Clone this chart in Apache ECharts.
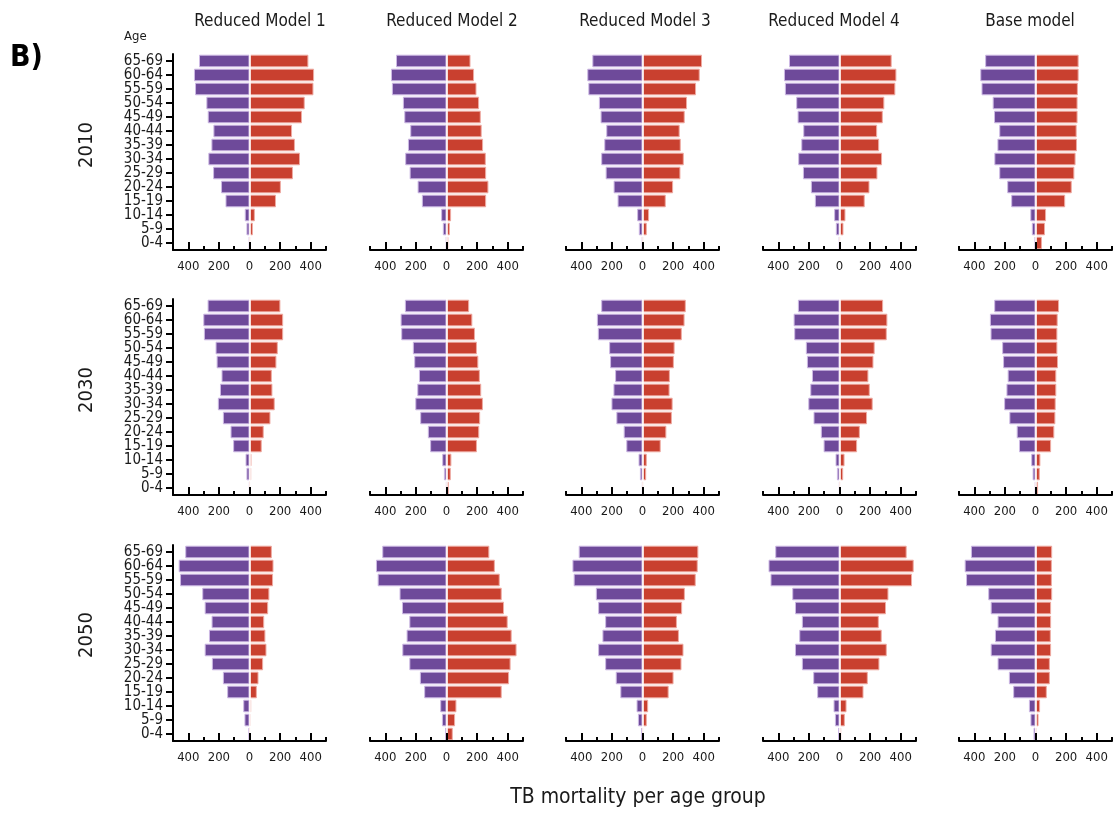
<!DOCTYPE html>
<html>
<head>
<meta charset="utf-8">
<script src="https://cdn.jsdelivr.net/npm/echarts@6/dist/echarts.min.js"></script>
<style>
  html, body { margin: 0; padding: 0; background: #fff; }
  #chart { width: 1113px; height: 817px; }
</style>
</head>
<body>
<div id="chart"></div>
<script>
// ---------- DATA (age groups from youngest to oldest) ----------
const ageGroups = ['0-4','5-9','10-14','15-19','20-24','25-29','30-34','35-39','40-44','45-49','50-54','55-59','60-64','65-69'];
const modelNames = ['Reduced Model 1','Reduced Model 2','Reduced Model 3','Reduced Model 4','Base model'];
const years = ['2010','2030','2050'];
const xMajorTicks = [-400,-200,0,200,400];
const xMinorTicks = [-500,-300,-100,100,300,500];

// 2010
const m1_2010_left  = [2,20,31,157,186,238,269,249,236,273,282,356,363,330];
const m1_2010_right = [3,22,35,173,205,284,330,297,278,343,361,418,422,385];
const m2_2010_left  = [2,24,35,161,189,241,270,252,237,276,285,357,363,330];
const m2_2010_right = [12,22,30,259,274,259,257,239,230,224,213,196,180,157];
const m3_2010_left  = [2,24,35,163,189,241,270,250,237,274,285,354,361,328];
const m3_2010_right = [3,28,43,152,200,248,270,250,243,276,291,350,374,389];
const m4_2010_left  = [2,24,35,161,187,239,270,250,237,274,283,357,363,330];
const m4_2010_right = [3,26,39,165,196,248,278,259,246,283,293,365,372,341];
const base_2010_left  = [5,24,34,159,185,237,269,249,237,271,280,353,361,329];
const base_2010_right = [42,62,69,194,237,254,262,271,269,275,275,277,282,282];

// 2030
const m1_2030_left  = [1,20,26,107,124,174,207,193,183,215,222,298,302,274];
const m1_2030_right = [1,11,13,80,93,137,165,150,146,176,185,220,220,202];
const m2_2030_left  = [1,17,28,107,122,172,204,191,180,211,220,296,300,272];
const m2_2030_right = [15,28,32,199,214,220,238,227,218,208,199,186,169,148];
const m3_2030_left  = [1,17,26,106,123,171,203,190,179,212,218,292,298,270];
const m3_2030_right = [3,24,28,119,156,192,197,177,179,205,210,257,275,283];
const m4_2030_left  = [1,17,26,104,122,170,204,191,180,213,220,296,300,272];
const m4_2030_right = [2,24,33,115,133,180,217,198,189,222,230,309,313,285];
const base_2030_left  = [2,19,28,108,123,171,205,190,182,212,218,294,298,270];
const base_2030_right = [17,28,32,102,123,130,132,136,136,147,143,143,145,154];

// 2050
const m1_2050_left  = [6,33,41,146,174,246,293,265,248,293,309,454,463,420];
const m1_2050_right = [1,7,11,48,59,89,111,104,96,122,130,154,157,146];
const m2_2050_left  = [9,30,41,146,174,243,289,261,243,291,307,450,461,420];
const m2_2050_right = [41,56,65,361,409,419,458,426,400,376,361,348,316,280];
const m3_2050_left  = [9,30,39,145,175,244,290,262,244,290,305,450,458,417];
const m3_2050_right = [2,28,37,171,203,255,268,238,225,259,277,348,361,365];
const m4_2050_left  = [9,30,39,146,172,246,291,263,246,291,309,451,464,420];
const m4_2050_right = [11,35,46,157,185,261,309,276,257,304,320,474,485,439];
const base_2050_left  = [13,33,43,146,174,248,293,265,248,293,309,454,463,422];
const base_2050_right = [9,20,30,74,94,94,102,100,102,102,109,107,107,109];

const panels = [
  [[m1_2010_left,m1_2010_right],[m2_2010_left,m2_2010_right],[m3_2010_left,m3_2010_right],[m4_2010_left,m4_2010_right],[base_2010_left,base_2010_right]],
  [[m1_2030_left,m1_2030_right],[m2_2030_left,m2_2030_right],[m3_2030_left,m3_2030_right],[m4_2030_left,m4_2030_right],[base_2030_left,base_2030_right]],
  [[m1_2050_left,m1_2050_right],[m2_2050_left,m2_2050_right],[m3_2050_left,m3_2050_right],[m4_2050_left,m4_2050_right],[base_2050_left,base_2050_right]]
];

// ---------- LAYOUT / STYLE ----------
const FONT = "'DejaVu Sans Condensed', 'Liberation Sans Narrow', 'DejaVu Sans', sans-serif";
const TXT = '#1a1a1a';
const PURPLE = '#6e4a9a';
const RED = '#c9402f';
const colLefts = [173, 370, 566, 763, 959];
const rowTops = [54, 299, 545];
const GW = 153, GH = 196;
const titleX = [260, 452, 645, 834, 1030];
const rowLabelY = [145, 390, 635];

const grids = [], xAxes = [], yAxes = [], series = [];
let p = 0;
for (let r = 0; r < 3; r++) {
  for (let c = 0; c < 5; c++) {
    grids.push({ left: colLefts[c], top: rowTops[r], width: GW, height: GH });
    // minor ticks + axis line
    xAxes.push({
      gridIndex: p, type: 'value', min: -500, max: 500, position: 'bottom', z: 10,
      splitLine: { show: false },
      axisLine: { show: true, onZero: false, lineStyle: { color: '#000', width: 2 } },
      axisTick: { show: true, inside: true, length: 4, customValues: xMinorTicks, lineStyle: { color: '#000', width: 2 } },
      axisLabel: { show: false }
    });
    // major ticks + labels
    xAxes.push({
      gridIndex: p, type: 'value', min: -500, max: 500, position: 'bottom', z: 10,
      splitLine: { show: false },
      axisLine: { show: false, onZero: false },
      axisTick: { show: true, inside: true, length: 8, customValues: xMajorTicks, lineStyle: { color: '#000', width: 2 } },
      axisLabel: { show: true, customValues: xMajorTicks, margin: 10, fontSize: 13, fontFamily: FONT, color: TXT,
        formatter: v => String(Math.abs(v)) }
    });
    const showY = c === 0;
    yAxes.push({
      gridIndex: p, type: 'category', data: ageGroups, show: showY, z: 10, position: 'left',
      axisLine: { show: showY, onZero: false, lineStyle: { color: '#000', width: 2 } },
      axisTick: { show: showY, alignWithLabel: true, interval: 0, length: 7, lineStyle: { color: '#000', width: 2 } },
      axisLabel: { show: showY, interval: 0, margin: 10, fontSize: 15, fontFamily: FONT, color: TXT }
    });
    const [left, right] = panels[r][c];
    series.push({
      type: 'bar', xAxisIndex: 2 * p, yAxisIndex: p,
      data: left.map(v => -v), barGap: '-100%', barCategoryGap: '10%',
      itemStyle: { color: PURPLE, borderColor: '#cdb9e4', borderWidth: 1 },
      silent: true
    });
    series.push({
      type: 'bar', xAxisIndex: 2 * p, yAxisIndex: p,
      data: right.slice(), barGap: '-100%', barCategoryGap: '10%',
      itemStyle: { color: RED, borderColor: '#eeaaa2', borderWidth: 1 },
      silent: true,
      markLine: { silent: true, symbol: 'none', label: { show: false }, animation: false,
        lineStyle: { color: '#ffffff', width: 1.5, type: 'solid' }, data: [{ xAxis: 0 }] }
    });
    p++;
  }
}

const graphics = [];
modelNames.forEach((name, i) => {
  graphics.push({ type: 'text', x: titleX[i], y: 22, style: { text: name, fontSize: 17, fontFamily: FONT, fill: TXT, align: 'center', verticalAlign: 'middle' } });
});
years.forEach((yr, i) => {
  graphics.push({ type: 'text', x: 87, y: rowLabelY[i], rotation: Math.PI / 2,
    style: { text: yr, fontSize: 20, fontFamily: FONT, fill: TXT, align: 'center', verticalAlign: 'middle' } });
});
graphics.push({ type: 'text', x: 10, y: 58, style: { text: 'B)', fontSize: 30, fontWeight: 'bold', fontFamily: FONT, fill: '#000', align: 'left', verticalAlign: 'middle' } });
graphics.push({ type: 'text', x: 124, y: 37, style: { text: 'Age', fontSize: 13, fontFamily: FONT, fill: TXT, align: 'left', verticalAlign: 'middle' } });
graphics.push({ type: 'text', x: 638, y: 798, style: { text: 'TB mortality per age group', fontSize: 21, fontFamily: FONT, fill: TXT, align: 'center', verticalAlign: 'middle' } });

const chart = echarts.init(document.getElementById('chart'), null, { renderer: 'canvas' });
chart.setOption({
  backgroundColor: '#ffffff',
  animation: false,
  grid: grids,
  xAxis: xAxes,
  yAxis: yAxes,
  series: series,
  graphic: graphics
});
</script>
</body>
</html>
